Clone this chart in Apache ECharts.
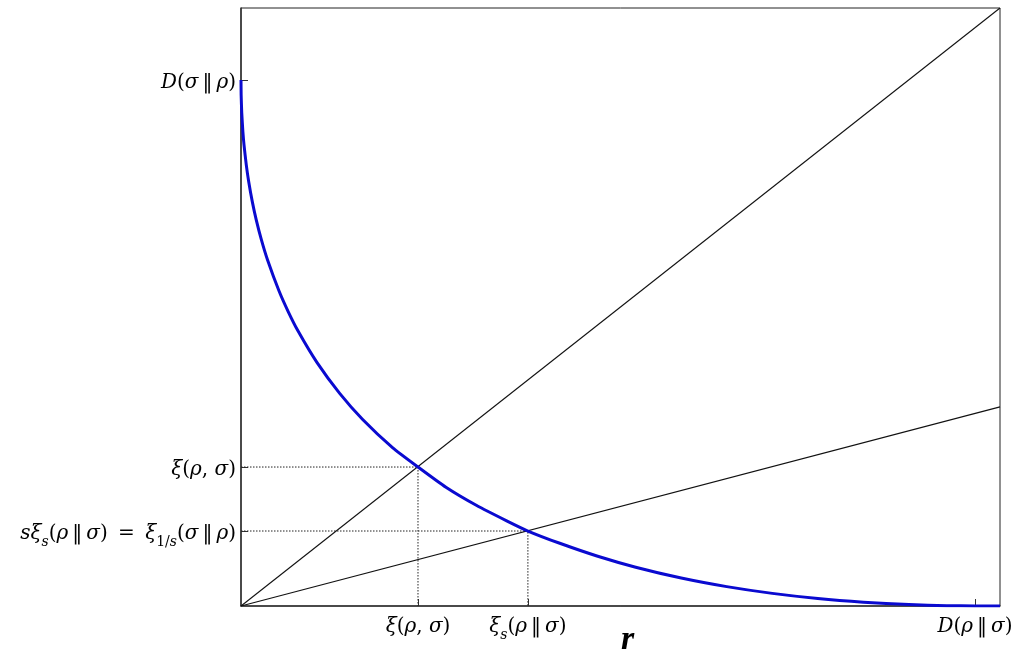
<!DOCTYPE html>
<html>
<head>
<meta charset="utf-8">
<script src="https://cdn.jsdelivr.net/npm/echarts@6/dist/echarts.min.js"></script>
<style>html,body{margin:0;padding:0;background:#fff}#c{width:1017px;height:664px}</style>
</head>
<body>
<div id="c"></div>
<script>
// Key values (normalized units, axes 0..1)
const D_sigma_rho = 0.8796;   // D(σ‖ρ) on y axis
const D_rho_sigma = 0.967;    // D(ρ‖σ) on x axis
const xi_x = 0.2332, xi_y = 0.2324;     // ξ(ρ,σ)
const xis_x = 0.378, xis_y = 0.1254;    // ξ_s(ρ‖σ), sξ_s
const slopeS = 0.333;                   // slope of line r·s

// Blue curve samples [r, value]
const curveX = [0, 0.0002, 0.001, 0.0025, 0.004, 0.007, 0.01, 0.015, 0.02, 0.027, 0.035, 0.05, 0.062, 0.075, 0.1, 0.13, 0.16, 0.2, 0.2332, 0.27, 0.31, 0.35, 0.378, 0.42, 0.47, 0.52, 0.58, 0.64, 0.70, 0.76, 0.82, 0.88, 0.93, 0.967, 1.0];
const curveY = [0.8796, 0.8546, 0.8243, 0.7930, 0.7708, 0.7372, 0.7109, 0.6754, 0.6462, 0.6118, 0.5786, 0.5271, 0.4928, 0.4602, 0.4074, 0.3556, 0.3124, 0.2644, 0.2324, 0.1986, 0.1684, 0.1424, 0.1254, 0.1049, 0.0832, 0.0649, 0.0468, 0.0324, 0.0211, 0.0125, 0.0064, 0.0024, 0.0006, 0, 0];

// Tick labels
const PAR = '\u2009\u2016\u2009';
const yTickValues = [xis_y, xi_y, D_sigma_rho];
const yTickLabels = [
  '{i|sξ}{sub|s}{n|(}{i|ρ}{n|' + PAR + '}{i|σ}{n|)\u2009 = \u2009}{i|ξ}{subn|1/}{sub|s}{n|(}{i|σ}{n|' + PAR + '}{i|ρ}{n|)}',
  '{i|ξ}{n|(}{i|ρ}{n|, }{i|σ}{n|)}',
  '{i|D}{n|(}{i|σ}{n|' + PAR + '}{i|ρ}{n|)}'
];
const xTickValues = [xi_x, xis_x, D_rho_sigma];
const xTickLabels = [
  '{i|ξ}{n|(}{i|ρ}{n|, }{i|σ}{n|)}',
  '{i|ξ}{sub|s}{n|(}{i|ρ}{n|' + PAR + '}{i|σ}{n|)}',
  '{i|D}{n|(}{i|ρ}{n|' + PAR + '}{i|σ}{n|)}'
];
const xName = 'r';

function pick(vals, labels, v) {
  let best = 0, bd = Infinity;
  vals.forEach((x, i) => { const d = Math.abs(x - v); if (d < bd) { bd = d; best = i; } });
  return labels[best];
}
const FONT = 'DejaVu Serif';
const rich = {
  i: {fontFamily: FONT, fontStyle: 'italic', fontSize: 20, color: '#000', lineHeight: 26, verticalAlign: 'bottom'},
  n: {fontFamily: FONT, fontSize: 20, color: '#000', lineHeight: 26, verticalAlign: 'bottom'},
  sub: {fontFamily: FONT, fontStyle: 'italic', fontSize: 14, color: '#000', lineHeight: 26, verticalAlign: 'bottom', padding: [0, 0, -5, 0]},
  subn: {fontFamily: FONT, fontSize: 14, color: '#000', lineHeight: 26, verticalAlign: 'bottom', padding: [0, 0, -5, 0]}
};

const chart = echarts.init(document.getElementById('c'));
chart.setOption({
  animation: false,
  backgroundColor: '#fff',
  grid: {left: 241, right: 17, top: 8, bottom: 58, outerBoundsMode: 'none', containLabel: false, show: true, borderColor: '#222', borderWidth: 1, backgroundColor: 'transparent'},
  xAxis: {
    type: 'value', min: 0, max: 1,
    splitLine: {show: false},
    axisLine: {lineStyle: {color: '#333', width: 1.5}},
    axisTick: {show: true, inside: true, length: 7, customValues: xTickValues, lineStyle: {color: '#333'}},
    axisLabel: {customValues: xTickValues, margin: 5, formatter: v => pick(xTickValues, xTickLabels, v), rich: rich},
    name: xName, nameLocation: 'middle', nameGap: 17, nameMoveOverlap: false,
    nameTextStyle: {fontFamily: 'Liberation Serif', fontStyle: 'italic', fontWeight: 'bold', fontSize: 34, color: '#000', padding: [0, 0, 0, 14]}
  },
  yAxis: {
    type: 'value', min: 0, max: 1,
    splitLine: {show: false},
    axisLine: {lineStyle: {color: '#333', width: 1.5}},
    axisTick: {show: true, inside: true, length: 7, customValues: yTickValues, lineStyle: {color: '#333'}},
    axisLabel: {customValues: yTickValues, margin: 5, formatter: v => pick(yTickValues, yTickLabels, v), rich: rich}
  },
  series: [
    {type: 'line', data: [[0, 0], [1, 1]], symbol: 'none', lineStyle: {color: '#111', width: 1.1}, silent: true},
    {type: 'line', data: [[0, 0], [1, slopeS]], symbol: 'none', lineStyle: {color: '#111', width: 1.1}, silent: true},
    {type: 'line', data: [[0, xi_y], [xi_x, xi_y], [xi_x, 0]], symbol: 'none', lineStyle: {color: '#222', width: 1, type: [1.5, 1.5]}, silent: true},
    {type: 'line', data: [[0, xis_y], [xis_x, xis_y], [xis_x, 0]], symbol: 'none', lineStyle: {color: '#222', width: 1, type: [1.5, 1.5]}, silent: true},
    {type: 'line', data: curveX.map((x, i) => [x, curveY[i]]), symbol: 'none', smooth: 0.2, lineStyle: {color: '#0a0ad0', width: 3, join: 'round'}, silent: true}
  ]
});
</script>
</body>
</html>
